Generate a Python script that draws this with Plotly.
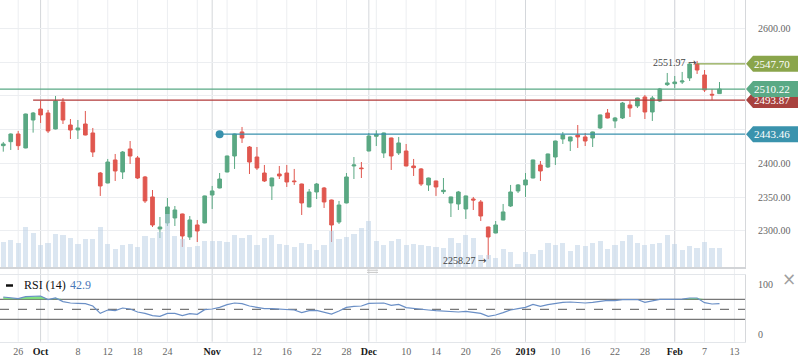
import plotly.graph_objects as go

# ---------------- data ----------------
opens = [2426.4, 2432.3, 2443.7, 2423.0, 2464.4, 2480.7, 2474.8, 2451.1, 2491.1, 2457.0,
         2449.6, 2458.5, 2445.2, 2385.9, 2371.1, 2405.2, 2387.4, 2421.5, 2408.2, 2380.0,
         2350.4, 2303.0, 2311.9, 2319.3, 2325.2, 2291.1, 2308.9, 2311.9, 2353.3, 2363.7,
         2387.4, 2411.1, 2446.7, 2424.4, 2409.6, 2385.9, 2366.7, 2384.4, 2385.9, 2374.1,
         2369.6, 2335.6, 2357.8, 2363.7, 2345.9, 2313.3, 2341.5, 2396.3, 2393.3, 2418.5,
         2440.3, 2415.6, 2437.8, 2415.6, 2418.5, 2396.3, 2391.9, 2368.2, 2374.1, 2358.3,
         2341.5, 2340.0, 2332.6, 2347.4, 2343.0, 2305.9, 2297.0, 2316.3, 2337.0, 2359.3,
         2368.2, 2378.5, 2397.8, 2394.8, 2409.6, 2436.3, 2433.3, 2442.2, 2439.3, 2437.8,
         2452.6, 2474.8, 2463.0, 2467.4, 2486.7, 2485.2, 2498.5, 2476.3, 2492.6, 2516.8,
         2518.3, 2520.7, 2526.7, 2547.4, 2531.1, 2502.5, 2503.5]
highs = [2431.9, 2444.5, 2448.2, 2473.8, 2476.3, 2492.6, 2479.3, 2500.0, 2497.0, 2465.9,
         2464.4, 2477.8, 2452.6, 2387.4, 2406.7, 2414.1, 2418.5, 2433.3, 2411.1, 2381.5,
         2360.7, 2320.7, 2348.9, 2337.0, 2325.7, 2322.2, 2316.3, 2352.4, 2366.7, 2385.9,
         2411.6, 2444.2, 2454.1, 2425.9, 2424.4, 2397.8, 2379.0, 2396.3, 2397.8, 2391.9,
         2370.1, 2362.2, 2371.1, 2365.2, 2346.4, 2344.5, 2385.9, 2409.6, 2402.2, 2445.2,
         2449.1, 2445.7, 2438.3, 2439.3, 2428.9, 2406.7, 2393.3, 2379.0, 2374.6, 2378.5,
         2350.9, 2359.3, 2352.4, 2350.4, 2345.9, 2306.4, 2314.8, 2340.0, 2368.2, 2369.6,
         2385.9, 2405.7, 2403.7, 2414.6, 2433.8, 2446.7, 2439.8, 2457.0, 2445.2, 2447.2,
         2472.4, 2480.7, 2468.9, 2491.1, 2492.6, 2497.5, 2501.5, 2500.0, 2511.9, 2534.1,
         2529.6, 2535.6, 2549.0, 2551.97, 2538.5, 2510.4, 2520.7]
lows = [2417.5, 2420.0, 2420.0, 2422.5, 2445.7, 2460.0, 2445.2, 2450.5, 2458.5, 2436.3,
        2436.3, 2441.7, 2409.6, 2351.9, 2370.6, 2374.1, 2377.0, 2399.3, 2377.0, 2341.5,
        2305.9, 2289.6, 2307.4, 2307.4, 2276.3, 2286.7, 2283.7, 2311.4, 2332.6, 2363.2,
        2386.9, 2391.9, 2430.4, 2384.4, 2390.4, 2372.6, 2345.9, 2377.0, 2365.2, 2368.2,
        2323.7, 2335.1, 2347.4, 2334.1, 2283.7, 2310.4, 2341.0, 2377.0, 2378.5, 2418.0,
        2425.9, 2408.2, 2390.4, 2412.6, 2395.8, 2381.5, 2366.7, 2359.3, 2351.9, 2354.8,
        2320.7, 2331.1, 2317.8, 2331.1, 2314.8, 2258.27, 2296.5, 2315.8, 2335.6, 2356.3,
        2350.4, 2378.0, 2374.1, 2393.3, 2397.8, 2428.9, 2418.5, 2423.0, 2425.9, 2424.4,
        2451.1, 2466.9, 2452.6, 2465.9, 2468.9, 2482.2, 2465.9, 2463.0, 2491.1, 2514.8,
        2511.9, 2517.8, 2522.2, 2532.6, 2505.9, 2494.1, 2503.0]
closes = [2428.9, 2443.7, 2426.4, 2473.3, 2474.8, 2471.9, 2448.2, 2492.6, 2464.4, 2449.6,
          2452.6, 2442.2, 2417.0, 2366.7, 2402.2, 2388.9, 2417.0, 2411.1, 2378.5, 2344.5,
          2308.9, 2305.9, 2335.6, 2331.1, 2292.6, 2316.3, 2300.0, 2351.9, 2359.3, 2377.0,
          2411.1, 2443.7, 2437.8, 2402.2, 2393.3, 2374.1, 2378.5, 2381.5, 2372.6, 2373.1,
          2341.5, 2357.8, 2369.6, 2343.0, 2308.9, 2338.5, 2380.0, 2397.8, 2392.4, 2440.7,
          2443.2, 2445.2, 2411.1, 2430.4, 2396.3, 2393.8, 2369.6, 2378.5, 2365.2, 2360.3,
          2350.4, 2357.8, 2351.9, 2345.9, 2322.2, 2291.1, 2308.9, 2328.2, 2357.8, 2368.2,
          2375.6, 2405.2, 2388.9, 2414.1, 2433.3, 2442.2, 2439.3, 2439.3, 2433.3, 2446.7,
          2471.9, 2467.4, 2467.4, 2489.6, 2482.2, 2497.0, 2476.3, 2497.0, 2510.4, 2519.3,
          2520.7, 2522.2, 2547.4, 2538.5, 2508.9, 2501.5, 2510.22]
volumes = [2530, 2730, 2430, 4030, 3430, 2230, 2430, 3330, 3230, 2930,
           2330, 2830, 2830, 4030, 2330, 1830, 2230, 2330, 2030, 3130,
           2930, 3530, 5330, 3130, 2830, 2030, 2130, 2630, 2630, 2630,
           2530, 3230, 2930, 3230, 2230, 2930, 3230, 2330, 2230, 2030,
           2430, 2330, 1730, 2230, 3630, 2830, 3030, 3330, 3930, 4630,
           2630, 2230, 2630, 2830, 2230, 2330, 2230, 2130, 2030, 1930,
           2930, 2430, 3230, 2930, 1230, 1230, 930, 1830, 1530, 330,
           1530, 1330, 1730, 2430, 2230, 2430, 1630, 2230, 2130, 2430,
           2630, 1830, 2230, 2630, 3230, 2430, 2230, 2330, 2430, 3230,
           2330, 1730, 2130, 1930, 2530, 1930, 1930]
rsi = [74.6, 72.6, 71.3, 75.3, 76.6, 76.6, 69.3, 72.6, 65.3, 62.6,
       61.9, 61.3, 56.6, 41.9, 48.6, 47.3, 52.6, 50.6, 44.6, 41.9,
       37.3, 35.9, 41.9, 41.9, 37.3, 41.3, 39.9, 49.3, 50.6, 53.9,
       59.3, 62.6, 61.3, 56.6, 53.9, 51.3, 51.3, 49.9, 49.9, 48.6,
       43.3, 47.3, 47.9, 43.9, 40.6, 46.6, 53.9, 55.9, 56.6, 61.9,
       62.6, 62.6, 57.9, 59.9, 53.3, 51.3, 50.6, 48.6, 47.3, 45.9,
       44.6, 44.6, 45.9, 44.6, 41.9, 35.9, 38.6, 43.3, 48.6, 51.3,
       53.9, 59.9, 55.9, 59.3, 61.9, 63.9, 64.6, 63.9, 62.6, 63.9,
       65.3, 67.9, 67.3, 69.5, 69.3, 69.6, 63.9, 67.3, 69.8, 69.8,
       69.9, 70.2, 72.6, 72.6, 63.3, 60.6, 61.3]

# x-axis tick labels (index of trading day -> label)
tick_idx = [2, 5, 10, 14, 18, 22, 28, 34, 38, 42, 46, 49, 54, 58, 62, 66, 70, 74, 78, 82, 86, 90, 94, 98]
tick_lbl = ['26', 'Oct', '8', '12', '18', '24', 'Nov', '12', '16', '22', '28', 'Dec',
            '10', '14', '20', '26', '2019', '10', '16', '22', '28', 'Feb', '7', '13']
month_lbl = {'Oct', 'Nov', 'Dec', '2019', 'Feb'}
grid_idx = list(range(2, 99, 4))

# price axis ticks
price_ticks = [2300, 2350, 2400, 2450, 2500, 2550, 2600]
price_shown = [2300, 2350, 2400, 2600]

# drawn horizontal levels: value, start index (None = full width), colour
levels = [2547.70, 2510.22, 2493.87, 2443.46]
level_start = [93, None, 4, 29]
level_color = ['#8aa54b', '#58a985', '#b23a3a', '#3891ad']
tag_color = ['#8aa54b', '#5aa985', '#a8413e', '#3a93ad']

rsi_label = 'RSI (14)'
rsi_value_text = '42.9'

# ---------------- geometry ----------------
W, H = 798, 363
ML, MR, MT, MB = 0, 53, 0, 20
PW, PH = W - ML - MR, H - MT - MB
FONT = 'Liberation Serif'

def px_x(px):
    return (px - ML) / PW

def px_y(py):
    return (PH - (py - MT)) / PH

x_range = [-0.44, 99.42]
main_dom = [px_y(267.3), 1.0]
rsi_dom = [px_y(341.7), px_y(275)]
price_range = [2246.2, 2642.2]
rsi_range = [-14.8, 118.6]
vol_range = [0, 26730]

n = len(closes)
xs = list(range(n))
GREEN = '#5aa883'
RED = '#e0574f'

fig = go.Figure()

fig.add_trace(go.Candlestick(
    x=xs, open=opens, high=highs, low=lows, close=closes,
    increasing=dict(line=dict(color=GREEN, width=1), fillcolor=GREEN),
    decreasing=dict(line=dict(color=RED, width=1), fillcolor=RED),
    whiskerwidth=0, xaxis='x', yaxis='y', showlegend=False, hoverinfo='skip'))

fig.add_trace(go.Bar(
    x=xs, y=volumes, width=0.7, marker=dict(color='rgba(190,210,230,0.55)', line=dict(width=0)),
    xaxis='x', yaxis='y3', showlegend=False, hoverinfo='skip'))

# level-start dot for the blue level
fig.add_trace(go.Scatter(
    x=[level_start[3]], y=[levels[3]], mode='markers',
    marker=dict(size=8, color=level_color[3]), xaxis='x', yaxis='y',
    showlegend=False, hoverinfo='skip'))

# RSI with overbought fill
fig.add_trace(go.Scatter(x=xs, y=[70] * n, mode='lines', line=dict(width=0),
                         xaxis='x2', yaxis='y2', showlegend=False, hoverinfo='skip'))
fig.add_trace(go.Scatter(x=xs, y=[max(v, 70) for v in rsi], mode='lines', line=dict(width=0),
                         fill='tonexty', fillcolor='rgba(110,220,110,0.85)',
                         xaxis='x2', yaxis='y2', showlegend=False, hoverinfo='skip'))
fig.add_trace(go.Scatter(x=xs, y=rsi, mode='lines', line=dict(color='#6a8fc6', width=1.2),
                         xaxis='x2', yaxis='y2', showlegend=False, hoverinfo='skip'))

shapes = []
# vertical grid lines
for g in grid_idx:
    shapes.append(dict(type='line', xref='x', yref='paper', x0=g, x1=g, y0=rsi_dom[0], y1=1,
                       line=dict(color='#eceef1', width=1), layer='below'))
for t, lbl in zip(tick_idx, tick_lbl):
    if lbl in month_lbl:
        shapes.append(dict(type='line', xref='x', yref='paper', x0=t, x1=t, y0=rsi_dom[0], y1=1,
                           line=dict(color='#d4d7db', width=1), layer='below'))

# level lines
for v, s, c in zip(levels, level_start, level_color):
    x0 = x_range[0] if s is None else s
    shapes.append(dict(type='line', xref='x', yref='y', x0=x0, x1=x_range[1], y0=v, y1=v,
                       line=dict(color=c, width=1.3), layer='above'))

# RSI guide lines
for lv, dash in [(70, 'solid'), (30, 'solid'), (50, 'dash')]:
    shapes.append(dict(type='line', xref='paper', yref='y2', x0=0, x1=1, y0=lv, y1=lv,
                       line=dict(color='#555555', width=1, dash=dash), layer='below'))

# price tags on the right (draw in order so that 2510.22 covers 2493.87)
half = 8 / 0.675
tag_order = [0, 3, 2, 1]
annotations = []
for k in tag_order:
    v = levels[k]
    xa, xb, xc = px_x(746), px_x(753), px_x(798)
    path = (f'M {xa},{v} L {xb},{v + half} L {xc},{v + half} L {xc},{v - half} '
            f'L {xb},{v - half} Z')
    shapes.append(dict(type='path', xref='paper', yref='y', path=path,
                       fillcolor=tag_color[k], line=dict(width=0), layer='above'))
    annotations.append(dict(xref='paper', yref='y', x=px_x(772), y=v, text=f'{v:.2f}',
                            showarrow=False, xanchor='center', yanchor='middle',
                            font=dict(family=FONT, size=11, color='white')))

# RSI legend dash and pane handle
shapes.append(dict(type='line', xref='paper', yref='paper', x0=px_x(6), x1=px_x(13),
                   y0=px_y(285.5), y1=px_y(285.5), line=dict(color='#111', width=2.5)))
for hy in (270.2, 272.4):
    shapes.append(dict(type='line', xref='paper', yref='paper', x0=px_x(367), x1=px_x(378),
                       y0=px_y(hy), y1=px_y(hy), line=dict(color='#c8c8c8', width=1)))

# max / min markers
imax = max(range(n), key=lambda i: highs[i])
imin = min(range(n), key=lambda i: lows[i])
ARROW = ' <span style="font-family:DejaVu Sans;font-size:10px">→</span>'
annotations.append(dict(xref='x', yref='y', x=imax, y=highs[imax], text=f'{highs[imax]:.2f}' + ARROW,
                        showarrow=False, xanchor='right', yanchor='middle', xshift=1, yshift=-2,
                        font=dict(family=FONT, size=10, color='#444')))
annotations.append(dict(xref='x', yref='y', x=imin, y=lows[imin], text=f'{lows[imin]:.2f}' + ARROW,
                        showarrow=False, xanchor='right', yanchor='middle', xshift=0, yshift=-1,
                        font=dict(family=FONT, size=10, color='#444')))

annotations.append(dict(xref='paper', yref='paper', x=px_x(22), y=px_y(284.5), text=rsi_label,
                        showarrow=False, xanchor='left', yanchor='middle',
                        font=dict(family=FONT, size=12, color='#111')))
annotations.append(dict(xref='paper', yref='paper', x=px_x(68), y=px_y(284.5), text=rsi_value_text,
                        showarrow=False, xanchor='left', yanchor='middle',
                        font=dict(family=FONT, size=12, color='#4a78b8')))
annotations.append(dict(xref='paper', yref='paper', x=px_x(789), y=px_y(279), text='×',
                        showarrow=False, xanchor='center', yanchor='middle',
                        font=dict(family='DejaVu Sans', size=17, color='#a0a0a0')))

ticktext = [f'<b><span style="color:#1a1a1a">{t}</span></b>' if t in month_lbl else t for t in tick_lbl]

fig.update_layout(
    width=W, height=H, margin=dict(l=ML, r=MR, t=MT, b=MB),
    paper_bgcolor='white', plot_bgcolor='white', showlegend=False,
    font=dict(family=FONT, size=10, color='#666'),
    shapes=shapes, annotations=annotations, bargap=0,
    xaxis=dict(domain=[0, 1], range=x_range, anchor='y', showticklabels=False,
               showgrid=False, zeroline=False, showline=True, linecolor='#d2d4d7', linewidth=1.5,
               rangeslider=dict(visible=False), fixedrange=True),
    xaxis2=dict(domain=[0, 1], range=x_range, anchor='y2', matches='x',
                tickmode='array', tickvals=tick_idx, ticktext=ticktext, ticks='',
                ticklabeloverflow='allow',
                tickfont=dict(family=FONT, size=10, color='#666'),
                showgrid=False, zeroline=False, showline=True, mirror=True,
                linecolor='#e3e6ea', linewidth=1),
    yaxis=dict(domain=main_dom, range=price_range, side='right', anchor='x',
               tickmode='array', tickvals=price_ticks,
               ticktext=[f'{p:.2f}' if p in price_shown else '' for p in price_ticks],
               gridcolor='#eceef1', gridwidth=1, zeroline=False, showline=True,
               linecolor='#d6d8db', ticks='', ticklabelstandoff=10,
               tickfont=dict(family=FONT, size=10, color='#666')),
    yaxis3=dict(overlaying='y', range=vol_range, visible=False, side='right'),
    yaxis2=dict(domain=rsi_dom, range=rsi_range, side='right', anchor='x2',
                tickmode='array', tickvals=[0, 100], showgrid=False, zeroline=False,
                showline=True, linecolor='#d6d8db', ticks='', ticklabelstandoff=10,
                tickfont=dict(family=FONT, size=10, color='#666')),
)

fig.write_html('out.html', config=dict(displayModeBar=False),
               post_script="document.body.style.margin='0';document.body.style.overflow='hidden';")
